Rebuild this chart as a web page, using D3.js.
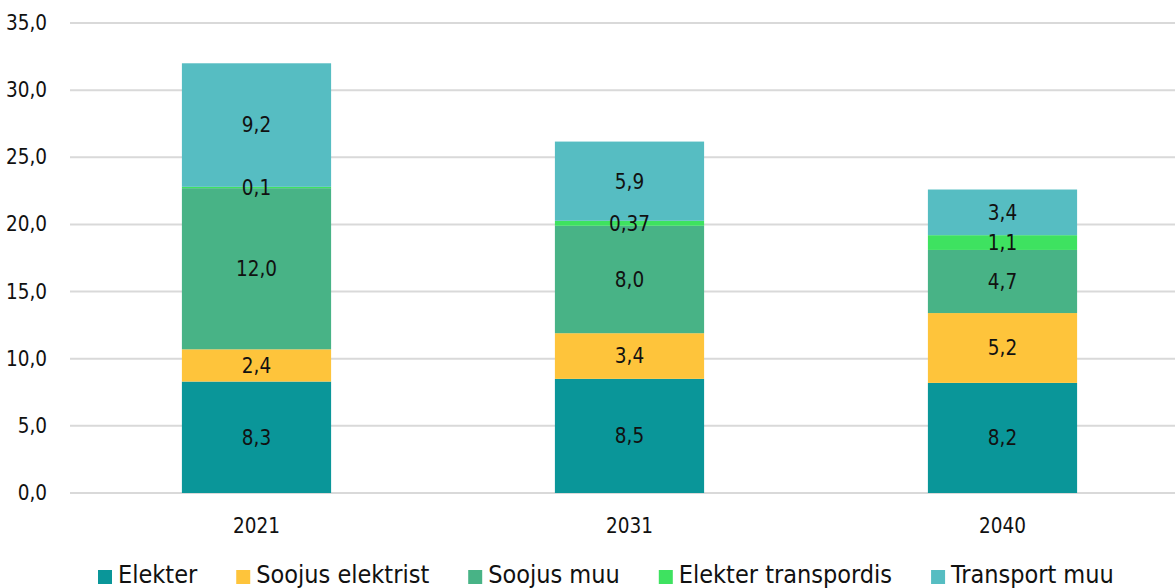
<!DOCTYPE html>
<html>
<head>
<meta charset="utf-8">
<script src="https://cdn.jsdelivr.net/npm/d3@7"></script>
<style>
  html, body { margin: 0; padding: 0; background: #fff; }
  svg { display: block; }
</style>
</head>
<body>
<svg id="chart" width="1175" height="588"></svg>
<script>
// Energy demand by use, stacked per year
const years = ["2021", "2031", "2040"];
const seriesNames = ["Elekter", "Soojus elektrist", "Soojus muu", "Elekter transpordis", "Transport muu"];
const elekter = [8.3, 8.5, 8.2];
const soojusElektrist = [2.4, 3.4, 5.2];
const soojusMuu = [12.0, 8.0, 4.7];
const elekterTranspordis = [0.1, 0.37, 1.1];
const transportMuu = [9.2, 5.9, 3.4];
const yTicks = [0, 5, 10, 15, 20, 25, 30, 35];
const colors = ["#0a9699", "#fec43b", "#48b386", "#3ee260", "#56bdc2"];

const FONT = "DejaVu Sans Condensed, DejaVu Sans";

const seriesValues = [elekter, soojusElektrist, soojusMuu, elekterTranspordis, transportMuu];
const rows = years.map((yr, i) => {
  const r = { year: yr };
  seriesNames.forEach((s, k) => { r[s] = seriesValues[k][i]; });
  return r;
});

const svg = d3.select("#chart");
const x = d3.scaleBand().domain(years).range([70, 1189]).paddingInner(0.6).paddingOuter(0.3);
const y = d3.scaleLinear().domain([0, 35]).range([493, 23]);

const fmtNum = v => {
  const s = Math.abs(v * 10 - Math.round(v * 10)) < 1e-9 ? d3.format(".1f")(v) : d3.format(".2f")(v);
  return s.replace(".", ",");
};

// Gridlines
svg.append("g").selectAll("line").data(yTicks).join("line")
  .attr("x1", 70).attr("x2", 1189)
  .attr("y1", d => y(d)).attr("y2", d => y(d))
  .attr("stroke", "#d9d9d9").attr("stroke-width", 2);

// Y axis labels
const yAxis = svg.append("g").attr("transform", "translate(47,0)")
  .call(d3.axisLeft(y).tickValues(yTicks).tickSize(0).tickPadding(0).tickFormat(fmtNum));
yAxis.select(".domain").remove();
yAxis.selectAll("text").attr("font-family", FONT).attr("font-stretch", "condensed")
  .attr("font-size", "20.5px").attr("fill", "#111");

// X axis labels
const xAxis = svg.append("g").attr("transform", "translate(0,518)")
  .call(d3.axisBottom(x).tickSize(0).tickPadding(0));
xAxis.select(".domain").remove();
xAxis.selectAll("text").attr("font-family", FONT).attr("font-stretch", "condensed")
  .attr("font-size", "20.5px").attr("fill", "#111");

// Stacked bars
const stacked = d3.stack().keys(seriesNames)(rows);
const layers = svg.append("g").selectAll("g").data(stacked).join("g")
  .attr("fill", (d, i) => colors[i]);
layers.selectAll("rect").data(d => d).join("rect")
  .attr("x", d => x(d.data.year))
  .attr("width", x.bandwidth())
  .attr("y", d => y(d[1]))
  .attr("height", d => y(d[0]) - y(d[1]));

// Segment value labels
const labels = svg.append("g");
stacked.forEach(layer => {
  layer.forEach(d => {
    const v = d.data[layer.key];
    labels.append("text")
      .attr("x", x(d.data.year) + x.bandwidth() / 2)
      .attr("y", y((d[0] + d[1]) / 2))
      .attr("dy", "0.36em")
      .attr("text-anchor", "middle")
      .attr("font-family", FONT)
      .attr("font-stretch", "condensed")
      .attr("font-size", "20.5px")
      .attr("fill", "#111")
      .text(fmtNum(v));
  });
});

// Legend
const legend = svg.append("g");
let lx = 98;
seriesNames.forEach((name, i) => {
  legend.append("rect").attr("x", lx).attr("y", 570).attr("width", 14).attr("height", 14).attr("fill", colors[i]);
  const t = legend.append("text")
    .attr("x", lx + 20).attr("y", 583)
    .attr("font-family", FONT)
    .attr("font-stretch", "condensed")
    .attr("font-size", "25px").attr("fill", "#111")
    .text(name);
  lx += 20 + t.node().getComputedTextLength() + 39;
});
</script>
</body>
</html>
